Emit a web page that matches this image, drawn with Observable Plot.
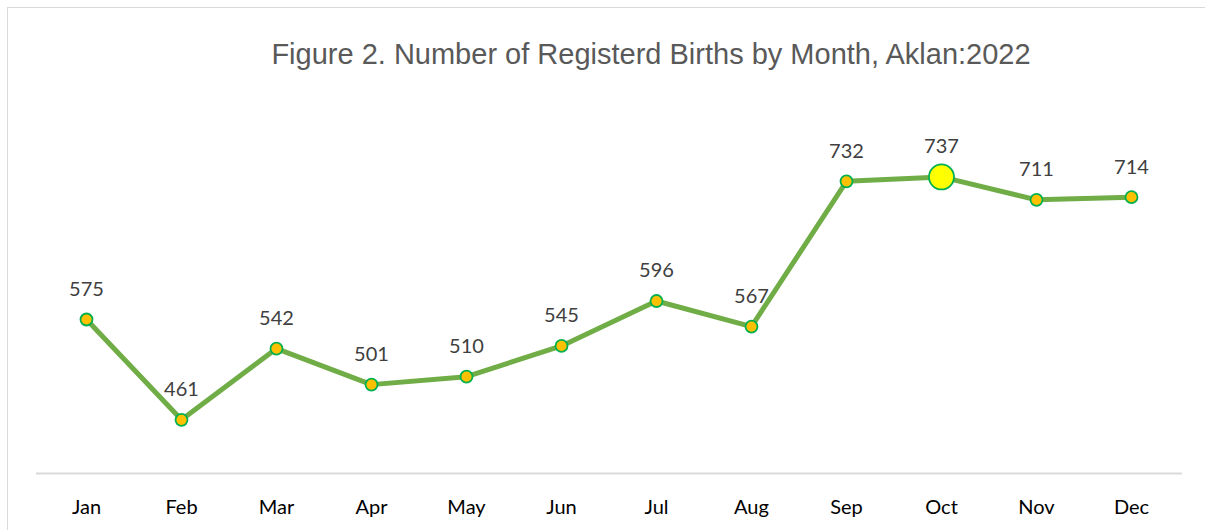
<!DOCTYPE html>
<html>
<head>
<meta charset="utf-8">
<script src="https://cdn.jsdelivr.net/npm/d3@7"></script>
<script src="https://cdn.jsdelivr.net/npm/@observablehq/plot@0.6"></script>
<style>
  html, body { margin: 0; padding: 0; background: #fff; overflow: hidden; width: 1205px; height: 530px; }
  #wrap { position: relative; width: 1205px; height: 530px; }
  #frame { position: absolute; left: 7px; top: 7px; width: 1400px; height: 700px; border: 1.5px solid #d9d9d9; box-sizing: border-box; }
  #title { position: absolute; left: 0; width: 1302px; top: 38px; text-align: center; font-family: "Liberation Sans", Arial, sans-serif; font-size: 29px; color: #595959; white-space: nowrap; }
  #chart { position: absolute; left: 0; top: 0; }
</style>
</head>
<body>
<div id="wrap">
  <div id="frame"></div>
  <div id="title">Figure 2. Number of Registerd Births by Month, Aklan:2022</div>
  <div id="chart"></div>
</div>
<script>
const months = ["Jan","Feb","Mar","Apr","May","Jun","Jul","Aug","Sep","Oct","Nov","Dec"];
const births = [575, 461, 542, 501, 510, 545, 596, 567, 732, 737, 711, 714];
const highlightMonth = "Oct";

const data = months.map((m, i) => ({month: m, value: births[i]}));
const normal = data.filter(d => d.month !== highlightMonth);
const special = data.filter(d => d.month === highlightMonth);

const chart = Plot.plot({
  width: 1205,
  height: 530,
  marginLeft: 35.6,
  marginRight: 24.2,
  marginTop: 121,
  marginBottom: 57,
  style: {background: "transparent", overflow: "visible"},
  x: {type: "point", domain: months, padding: 0.5, label: null},
  y: {domain: [400, 800], axis: null},
  marks: [
    Plot.ruleY([400], {insetLeft: 0.4, insetRight: -1.2, stroke: "#d9d9d9", strokeWidth: 2}),
    Plot.axisX({tickSize: 0, tickPadding: 26, fontSize: 20, fontFamily: "Lato, 'Open Sans', sans-serif", fontWeight: 400, color: "#000", label: null}),
    Plot.line(data, {x: "month", y: "value", stroke: "#70AD47", strokeWidth: 5, strokeLinejoin: "round", strokeLinecap: "round"}),
    Plot.dot(normal, {x: "month", y: "value", r: 6, fill: "#FFC000", stroke: "#00B050", strokeWidth: 1.8}),
    Plot.dot(special, {x: "month", y: "value", r: 12.5, fill: "#FFFF00", stroke: "#00B050", strokeWidth: 1.8}),
    Plot.text(data, {x: "month", y: "value", text: d => String(d.value), dy: -30, fontSize: 20, fontFamily: "Lato, 'Open Sans', sans-serif", fill: "#404040"})
  ]
});
document.getElementById("chart").appendChild(chart);
</script>
</body>
</html>
